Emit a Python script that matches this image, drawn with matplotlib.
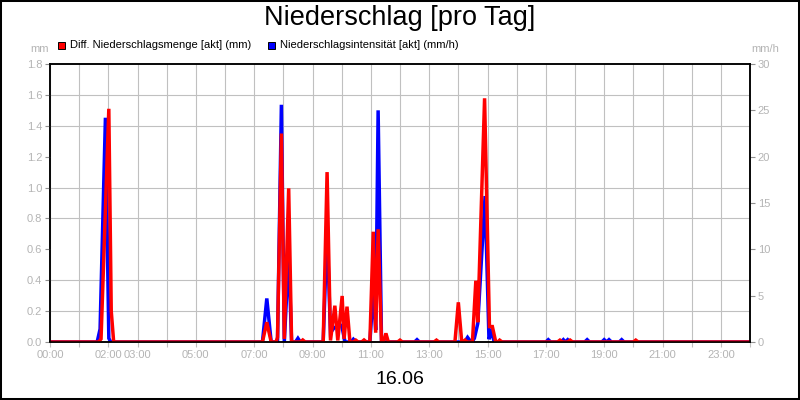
import matplotlib

matplotlib.use("Agg")
import matplotlib.pyplot as plt
from matplotlib.patches import Rectangle

plt.rcParams["font.family"] = ["Liberation Sans", "DejaVu Sans"]

# minutes of the day 16.06
red_t = [0, 100, 105, 121, 126, 131,
         437, 446, 455,
         465, 468, 476, 482, 491, 497,
         515, 520, 525,
         562, 570, 577, 586, 592, 601, 605, 611, 617,
         624, 629, 634, 641, 646, 651,
         658, 665, 670, 675, 682, 686, 691, 696,
         715, 720, 725, 790, 795, 800,
         833, 840, 847, 850, 854, 858,
         869, 876, 880, 894, 904, 910, 917, 921, 925, 930,
         1044, 1049, 1054, 1065, 1070, 1075, 1200, 1205, 1210, 1440]
red_mm = [0, 0, 0.02, 1.51, 0.2, 0,
          0, 0.128, 0,
          0, 0.03, 1.35, 0.02, 0.995, 0,
          0, 0.013, 0,
          0, 1.10, 0.01, 0.235, 0.01, 0.298, 0.02, 0.229, 0,
          0, 0.012, 0, 0, 0.013, 0,
          0, 0.714, 0.06, 0.73, 0, 0, 0.056, 0,
          0, 0.012, 0, 0, 0.012, 0,
          0, 0.257, 0, 0, 0.012, 0,
          0, 0.397, 0.128, 1.578, 0.1, 0.1, 0, 0, 0.012, 0,
          0, 0.012, 0, 0, 0.012, 0, 0, 0.012, 0, 0]

blue_t = [0, 97, 103, 114, 121, 125,
          437, 446, 455,
          468, 476, 482, 491, 497,
          505, 510, 515,
          562, 570, 577, 584, 592, 600, 607,
          619, 624, 629,
          658, 665, 670, 675, 682,
          750, 755, 760,
          853, 859, 866,
          868, 873, 880, 895, 903, 908, 914,
          1020, 1025, 1030, 1051, 1056, 1060, 1065, 1070,
          1100, 1105, 1110, 1135, 1140, 1145, 1150, 1155,
          1171, 1176, 1181, 1440]
blue_mmh = [0, 0, 1.4, 24.2, 0.4, 0,
            0, 4.7, 0,
            0, 25.6, 0, 9.5, 0,
            0, 0.4, 0,
            0, 12.0, 1.0, 1.5, 1.76, 1.8, 0,
            0, 0.3, 0,
            0, 5.4, 1.3, 25.0, 0,
            0, 0.25, 0,
            0, 0.5, 0,
            0, 0.4, 2.0, 15.75, 0.3, 1.1, 0,
            0, 0.25, 0, 0, 0.25, 0, 0.25, 0,
            0, 0.25, 0, 0, 0.25, 0, 0.25, 0,
            0, 0.25, 0, 0]

hour_labels = ["00:00", "", "02:00", "03:00", "", "05:00", "", "07:00", "", "09:00",
               "", "11:00", "", "13:00", "", "15:00", "", "17:00", "", "19:00",
               "", "21:00", "", "23:00", ""]
mm_ticks = [0.0, 0.2, 0.4, 0.6, 0.8, 1.0, 1.2, 1.4, 1.6, 1.8]
mmh_ticks = [0, 5, 10, 15, 20, 25, 30]

grey = "#b4b4b4"
W, H = 800, 400
fig = plt.figure(figsize=(8, 4), dpi=100)

# host axes carries intensity (right scale) and the grid; the twin carries mm on top
ax_b = fig.add_axes([50 / W, 1 - 342 / H, 700 / W, 278 / H])
ax_r = ax_b.twinx()
ax_b.yaxis.tick_right()
ax_r.yaxis.tick_left()

ax_b.plot(blue_t, blue_mmh, color="#0000ff", lw=2.5, solid_joinstyle="miter")
ax_r.plot(red_t, red_mm, color="#ff0000", lw=2.5, solid_joinstyle="miter")

ax_b.set_xlim(0, 1440)
ax_b.set_ylim(0, 30)
ax_r.set_ylim(0, 1.8)

ax_b.set_xticks([h * 60 for h in range(25)])
ax_b.set_xticklabels(hour_labels)
ax_b.set_yticks(mmh_ticks)
ax_b.set_yticklabels([str(v) for v in mmh_ticks])
ax_b.set_yticks([v / 1.8 * 30 for v in mm_ticks], minor=True)
ax_r.set_yticks(mm_ticks)
ax_r.set_yticklabels([f"{v:.1f}" for v in mm_ticks])

ax_b.grid(axis="x", which="major", color="#c0c0c0", lw=0.8)
ax_b.grid(axis="y", which="minor", color="#c0c0c0", lw=0.8)
ax_b.set_axisbelow(True)

ax_b.tick_params(axis="x", length=3.6, width=0.8, color="#c0c0c0", pad=2,
                 labelsize=8, labelcolor=grey)
ax_b.tick_params(axis="y", which="major", length=3.6, width=0.8, color="#909090", pad=2,
                 labelsize=8, labelcolor=grey)
ax_b.tick_params(axis="y", which="minor", length=0)
ax_r.tick_params(axis="y", length=3.6, width=0.8, color="#909090", pad=2,
                 labelsize=8, labelcolor=grey)

for a in (ax_b, ax_r):
    for s in a.spines.values():
        s.set_color("black")
        s.set_linewidth(1.1)

fig.text(0.5, 1 - 18 / H, "Niederschlag [pro Tag]", ha="center", va="center", fontsize=19.5)
fig.text(0.5, 1 - 380 / H, "16.06", ha="center", va="center", fontsize=14)
fig.text(40 / W, 1 - 49 / H, "mm", ha="center", va="center", fontsize=8, color=grey)
fig.text(765 / W, 1 - 49 / H, "mm/h", ha="center", va="center", fontsize=8, color=grey)

legend_items = [("Diff. Niederschlagsmenge [akt] (mm)", "#ff0000", 58),
                ("Niederschlagsintensität [akt] (mm/h)", "#0000ff", 268)]
for label, col, x0 in legend_items:
    fig.patches.append(Rectangle((x0 / W, 1 - 49 / H), 7 / W, 7 / H, transform=fig.transFigure,
                                 facecolor=col, edgecolor="black", lw=0.7))
    fig.text((x0 + 12) / W, 1 - 45 / H, label, ha="left", va="center", fontsize=8)

fig.patches.append(Rectangle((0, 0), 1, 1, transform=fig.transFigure, fill=False,
                             edgecolor="black", lw=2.9))

fig.savefig("out.png", dpi=100, facecolor="white")
